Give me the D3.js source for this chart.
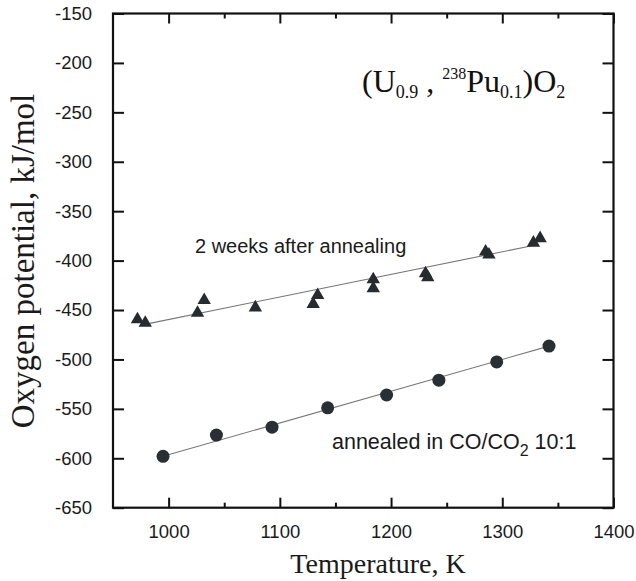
<!DOCTYPE html>
<html>
<head>
<meta charset="utf-8">
<script src="https://cdn.jsdelivr.net/npm/d3@7"></script>
<style>
  html, body { margin: 0; padding: 0; background: #fff; }
  svg { display: block; }
</style>
</head>
<body>
<svg id="chart" width="636" height="581"></svg>
<script>
// ---- data ----
const circleT = [995, 1043, 1093, 1143, 1196, 1243, 1295, 1342];
const circleP = [-598, -576.5, -568.5, -549, -536, -521, -502.5, -486.5];

const triT = [972, 979, 1026, 1032, 1078, 1130, 1134, 1184, 1184, 1231, 1233, 1285, 1288, 1328, 1334];
const triP = [-458.5, -462, -452, -439, -446.5, -443, -434, -418, -427, -412, -416, -390, -393, -381, -376.5];

const fitTriT = [983, 1331];
const fitTriP = [-463.5, -384];
const fitCircT = [995, 1342];
const fitCircP = [-598, -486.5];

const xTicksMajor = [1000, 1100, 1200, 1300, 1400];
const xTicksMinor = [1050, 1150, 1250, 1350];
const yTicks = [-650, -600, -550, -500, -450, -400, -350, -300, -250, -200, -150];

const xLabel = "Temperature, K";
const yLabel = "Oxygen potential, kJ/mol";
const labelTri = "2 weeks after annealing";

// ---- layout ----
const svg = d3.select("#chart");
const L = 113, R = 613.5, T = 13.5, B = 507.7;
const x = d3.scaleLinear().domain([950, 1400]).range([L, R]);
const y = d3.scaleLinear().domain([-650, -150]).range([B, T]);

const sans = "'Liberation Sans', Arial, sans-serif";
const serif = "'Liberation Serif', 'Times New Roman', serif";

// fit lines
const line = d3.line().x(d => x(d[0])).y(d => y(d[1]));
svg.append("path").datum(d3.zip(fitTriT, fitTriP)).attr("d", line)
  .attr("fill", "none").attr("stroke", "#777").attr("stroke-width", 1.1);
svg.append("path").datum(d3.zip(fitCircT, fitCircP)).attr("d", line)
  .attr("fill", "none").attr("stroke", "#777").attr("stroke-width", 1.1);

// axes
function styleAxis(g) {
  g.select(".domain").remove();
  g.selectAll("line").attr("stroke", "#111").attr("stroke-width", 2);
  g.selectAll("text").attr("font-family", sans).attr("font-size", 18.5).attr("fill", "#1a1a1a");
}
const plain = d => String(d);
// bottom
svg.append("g").attr("transform", `translate(0,${B})`)
  .call(d3.axisBottom(x).tickValues(xTicksMajor).tickSizeInner(-10).tickSizeOuter(0).tickPadding(17).tickFormat(plain))
  .call(styleAxis);
svg.append("g").attr("transform", `translate(0,${B})`)
  .call(d3.axisBottom(x).tickValues(xTicksMinor).tickSizeInner(-5).tickSizeOuter(0).tickFormat(""))
  .call(styleAxis);
// top
svg.append("g").attr("transform", `translate(0,${T})`)
  .call(d3.axisTop(x).tickValues(xTicksMajor).tickSizeInner(-10).tickSizeOuter(0).tickFormat(""))
  .call(styleAxis);
svg.append("g").attr("transform", `translate(0,${T})`)
  .call(d3.axisTop(x).tickValues(xTicksMinor).tickSizeInner(-5).tickSizeOuter(0).tickFormat(""))
  .call(styleAxis);
// left
svg.append("g").attr("transform", `translate(${L},0)`)
  .call(d3.axisLeft(y).tickValues(yTicks).tickSizeInner(-11).tickSizeOuter(0).tickPadding(21).tickFormat(plain))
  .call(styleAxis);
// right
svg.append("g").attr("transform", `translate(${R},0)`)
  .call(d3.axisRight(y).tickValues(yTicks).tickSizeInner(-11).tickSizeOuter(0).tickFormat(""))
  .call(styleAxis);

// frame
svg.append("rect").attr("x", L).attr("y", T).attr("width", R - L).attr("height", B - T)
  .attr("fill", "none").attr("stroke", "#111").attr("stroke-width", 2.2);

// markers
svg.append("g").selectAll("circle").data(d3.zip(circleT, circleP)).join("circle")
  .attr("cx", d => x(d[0])).attr("cy", d => y(d[1])).attr("r", 6.5)
  .attr("fill", "#2a2f33");
const tri = d3.symbol().type(d3.symbolTriangle).size(78);
svg.append("g").selectAll("path").data(d3.zip(triT, triP)).join("path")
  .attr("transform", d => `translate(${x(d[0])},${y(d[1]) + 1})`)
  .attr("d", tri).attr("fill", "#262b2f");

// annotations
svg.append("text").attr("x", 195).attr("y", 253).attr("font-family", sans).attr("font-size", 20)
  .attr("fill", "#1a1a1a").text(labelTri);

const t2 = svg.append("text").attr("x", 332).attr("y", 449).attr("font-family", sans).attr("font-size", 21.5).attr("fill", "#1a1a1a");
t2.append("tspan").text("annealed in CO/CO");
t2.append("tspan").attr("dy", 7).attr("font-size", 16).text("2");
t2.append("tspan").attr("dy", -7).text(" 10:1");

// formula title
const f = svg.append("text").attr("x", 362).attr("y", 92).attr("font-family", serif).attr("font-size", 32).attr("fill", "#111");
f.append("tspan").text("(U");
f.append("tspan").attr("dy", 6).attr("font-size", 18).text("0.9");
f.append("tspan").attr("dy", -6).text(" , ");
f.append("tspan").attr("dy", -13).attr("font-size", 16).text("238");
f.append("tspan").attr("dy", 13).text("Pu");
f.append("tspan").attr("dy", 6).attr("font-size", 18).text("0.1");
f.append("tspan").attr("dy", -6).text(")O");
f.append("tspan").attr("dy", 6).attr("font-size", 18).text("2");

// axis titles
svg.append("text").attr("x", 378).attr("y", 573).attr("text-anchor", "middle")
  .attr("font-family", serif).attr("font-size", 28).attr("fill", "#1a1a1a").text(xLabel);
svg.append("text").attr("transform", "translate(34,261) rotate(-90)").attr("text-anchor", "middle")
  .attr("font-family", serif).attr("font-size", 33).attr("fill", "#1a1a1a").text(yLabel);
</script>
</body>
</html>
